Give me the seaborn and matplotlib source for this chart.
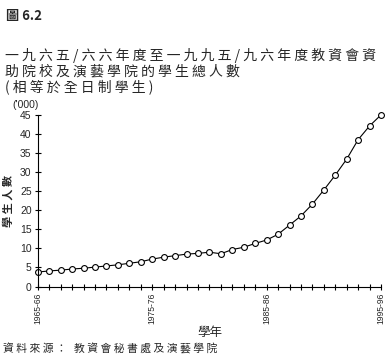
import matplotlib
matplotlib.use("Agg")
import matplotlib.pyplot as plt
import seaborn as sns
import pandas as pd

# 學年 1965-66 .. 1995-96
years = [f"{y}-{str(y + 1)[-2:]}" for y in range(1965, 1996)]
students = [3.8, 4.1, 4.3, 4.6, 4.8, 5.1, 5.4, 5.7, 6.1, 6.5,
            7.2, 7.7, 8.1, 8.5, 8.7, 9.0, 8.6, 9.7, 10.3, 11.3,
            12.2, 13.7, 16.1, 18.5, 21.6, 25.3, 29.2, 33.4, 38.5, 42.1, 45.0]
label_years = ["1965-66", "1975-76", "1985-86", "1995-96"]
y_ticks = list(range(0, 50, 5))

fig_no = "圖 6.2"
title_lines = ["一九六五/六六年度至一九九五/九六年度教資會資",
               "助院校及演藝學院的學生總人數",
               "(相等於全日制學生)"]
source = "資料來源： 教資會秘書處及演藝學院"

df = pd.DataFrame({"idx": range(len(years)), "year": years, "n": students})

sns.set_style("ticks")
plt.rcParams["font.family"] = ["Noto Sans CJK TC", "DejaVu Sans"]

fig = plt.figure(figsize=(3.9, 3.6), dpi=100)
ax = fig.add_axes([0.097, 0.204, 0.880, 0.477])

sns.lineplot(data=df, x="idx", y="n", ax=ax, color="black", linewidth=0.8,
             marker="o", markersize=4.2, markerfacecolor="white",
             markeredgecolor="black", markeredgewidth=0.8, clip_on=False)

ax.set_xlim(0, len(years) - 1)
ax.set_ylim(0, 45)
ax.set_xticks(range(len(years)))
ax.set_xticklabels([y if y in label_years else "" for y in years],
                   rotation=90, fontsize=6.2, family="Liberation Sans")
ax.set_yticks(y_ticks)
ax.set_yticklabels([str(v) for v in y_ticks], fontsize=7.5, family="Liberation Sans")
ax.tick_params(direction="inout", length=5, width=0.8, color="black", pad=2)
for s in ["left", "bottom"]:
    ax.spines[s].set_linewidth(0.8)
    ax.spines[s].set_color("black")
sns.despine(ax=ax)

ax.set_xlabel("學年", fontsize=9, labelpad=1)
ax.set_ylabel(" ".join("學生人數"), fontsize=8, fontweight="bold", labelpad=4)
ax.text(-0.075, 1.06, "('000)", transform=ax.transAxes, fontsize=7.5,
        family="Liberation Sans", va="center")


def spaced(s):
    return " ".join(s)


fig.text(0.015, 0.955, fig_no, fontsize=9.5, fontweight="bold", va="center")
for i, line in enumerate(title_lines):
    fig.text(0.012, 0.845 - i * 0.043, spaced(line), fontsize=10, va="center")
fig.text(0.008, 0.030, spaced(source), fontsize=7.8, va="center")

fig.savefig("out.png", dpi=100)
